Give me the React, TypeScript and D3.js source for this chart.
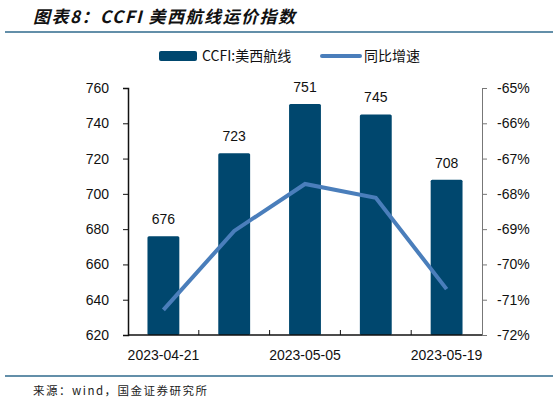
import { useEffect, useRef } from "react";
import * as d3 from "d3";

const DATES = ["2023-04-21", "2023-04-28", "2023-05-05", "2023-05-12", "2023-05-19"];
const CCFI = [676, 723, 751, 745, 708];
const YOY = [-71.29, -69.05, -67.72, -68.11, -70.7];
const LEFT_TICKS = [620, 640, 660, 680, 700, 720, 740, 760];
const RIGHT_TICKS = [-72, -71, -70, -69, -68, -67, -66, -65];
const LABELED_DATES = ["2023-04-21", "2023-05-05", "2023-05-19"];

const W = 559;
const H = 404;
const MARGIN = { top: 88, right: 77, bottom: 69, left: 128 };
const BAR_COLOR = "#00476e";
const LINE_COLOR = "#4a7ebb";
const FONT = "'Liberation Sans', Arial, sans-serif";
const CJK = "'Noto Sans CJK SC', sans-serif";

export default function App() {
  const svgRef = useRef<SVGSVGElement>(null);

  useEffect(() => {
    const svgElement = svgRef.current;
    if (!svgElement) return;
    const svg = d3.select(svgElement);
    svg.selectAll("*").remove();

    const innerW = W - MARGIN.left - MARGIN.right;
    const innerH = H - MARGIN.top - MARGIN.bottom;

    svg.append("rect").attr("width", W).attr("height", H).attr("fill", "#fff");

    // title
    svg
      .append("text")
      .attr("x", 33)
      .attr("y", 23)
      .attr("font-family", CJK)
      .attr("font-size", 17)
      .attr("font-weight", "bold")
      .attr("font-style", "italic")
      .attr("letter-spacing", 1.5)
      .attr("fill", "#111")
      .text("图表8：CCFI 美西航线运价指数");
    svg.append("line").attr("x1", 5).attr("x2", 553).attr("y1", 32).attr("y2", 32)
      .attr("stroke", "#2f6a8c").attr("stroke-width", 1.5);
    svg.append("line").attr("x1", 5).attr("x2", 553).attr("y1", 376).attr("y2", 376)
      .attr("stroke", "#2f6a8c").attr("stroke-width", 1.5);
    svg
      .append("text")
      .attr("x", 33)
      .attr("y", 395)
      .attr("font-family", CJK)
      .attr("font-size", 11.5)
      .attr("letter-spacing", 1.5)
      .attr("fill", "#222")
      .text("来源：wind，国金证券研究所");

    // legend
    const legend = svg.append("g").attr("font-family", CJK).attr("font-size", 14).attr("fill", "#111");
    legend.append("rect").attr("x", 159).attr("y", 51).attr("width", 38).attr("height", 10).attr("rx", 2).attr("fill", BAR_COLOR);
    legend.append("text").attr("x", 202).attr("y", 61).text("CCFI:美西航线");
    legend.append("line").attr("x1", 322).attr("x2", 360).attr("y1", 56).attr("y2", 56)
      .attr("stroke", LINE_COLOR).attr("stroke-width", 4).attr("stroke-linecap", "round");
    legend.append("text").attr("x", 364).attr("y", 61).text("同比增速");

    const chart = svg.append("g").attr("transform", `translate(${MARGIN.left},${MARGIN.top})`);

    const x = d3.scaleBand().domain(DATES).range([0, innerW]).paddingInner(0.55).paddingOuter(0.275);
    const xBand = d3.scaleBand().domain(DATES).range([0, innerW]);
    const yL = d3.scaleLinear().domain([620, 760]).range([innerH, 0]);
    const yR = d3.scaleLinear().domain([-72, -65]).range([innerH, 0]);

    chart
      .selectAll("rect.bar")
      .data(DATES)
      .join("rect")
      .attr("class", "bar")
      .attr("x", (d) => x(d) ?? 0)
      .attr("y", (_, i) => yL(CCFI[i]))
      .attr("width", x.bandwidth())
      .attr("height", (_, i) => innerH - yL(CCFI[i]))
      .attr("rx", 1.5)
      .attr("fill", BAR_COLOR);

    chart
      .selectAll("text.val")
      .data(DATES)
      .join("text")
      .attr("class", "val")
      .attr("x", (d) => (x(d) ?? 0) + x.bandwidth() / 2)
      .attr("y", (_, i) => yL(CCFI[i]) - 12)
      .attr("text-anchor", "middle")
      .attr("font-family", FONT)
      .attr("font-size", 14)
      .attr("fill", "#111")
      .text((_, i) => String(CCFI[i]));

    const line = d3
      .line<number>()
      .x((_, i) => (xBand(DATES[i]) ?? 0) + xBand.bandwidth() / 2)
      .y((d) => yR(d));
    chart
      .append("path")
      .attr("d", line(YOY) ?? "")
      .attr("fill", "none")
      .attr("stroke", LINE_COLOR)
      .attr("stroke-width", 4);

    // left axis
    const left = chart
      .append("g")
      .call(d3.axisLeft(yL).tickValues(LEFT_TICKS).tickSize(5).tickPadding(14).tickFormat(d3.format("d")));
    left.selectAll("text").attr("font-family", FONT).attr("font-size", 14).attr("fill", "#111");
    left.select(".domain").attr("stroke", "#111").attr("stroke-width", 1.5);
    left.selectAll(".tick line").attr("stroke", "#111");

    // right axis
    const right = chart
      .append("g")
      .attr("transform", `translate(${innerW},0)`)
      .call(d3.axisRight(yR).tickValues(RIGHT_TICKS).tickSize(5).tickPadding(10).tickFormat((d) => `${d}%`));
    right.selectAll("text").attr("font-family", FONT).attr("font-size", 14).attr("fill", "#111");
    right.select(".domain").attr("stroke", "#777").attr("stroke-width", 1);
    right.selectAll(".tick line").attr("stroke", "#777");

    // bottom axis
    const bottom = chart.append("g").attr("transform", `translate(0,${innerH})`);
    bottom
      .append("line")
      .attr("x1", 0)
      .attr("x2", innerW)
      .attr("stroke", "#111")
      .attr("stroke-width", 1.5);
    bottom
      .selectAll("line.tick")
      .data(DATES.slice(1))
      .join("line")
      .attr("class", "tick")
      .attr("x1", (d) => xBand(d) ?? 0)
      .attr("x2", (d) => xBand(d) ?? 0)
      .attr("y1", 0)
      .attr("y2", -5)
      .attr("stroke", "#111");
    bottom
      .selectAll("text")
      .data(LABELED_DATES)
      .join("text")
      .attr("x", (d) => (xBand(d) ?? 0) + xBand.bandwidth() / 2)
      .attr("y", 25)
      .attr("text-anchor", "middle")
      .attr("font-family", FONT)
      .attr("font-size", 14)
      .attr("fill", "#111")
      .text((d) => d);
  }, []);

  return (
    <svg
      ref={svgRef}
      width={W}
      height={H}
      style={{ position: "absolute", left: 0, top: 0 }}
      role="img"
      aria-label="CCFI 美西航线运价指数"
    />
  );
}
